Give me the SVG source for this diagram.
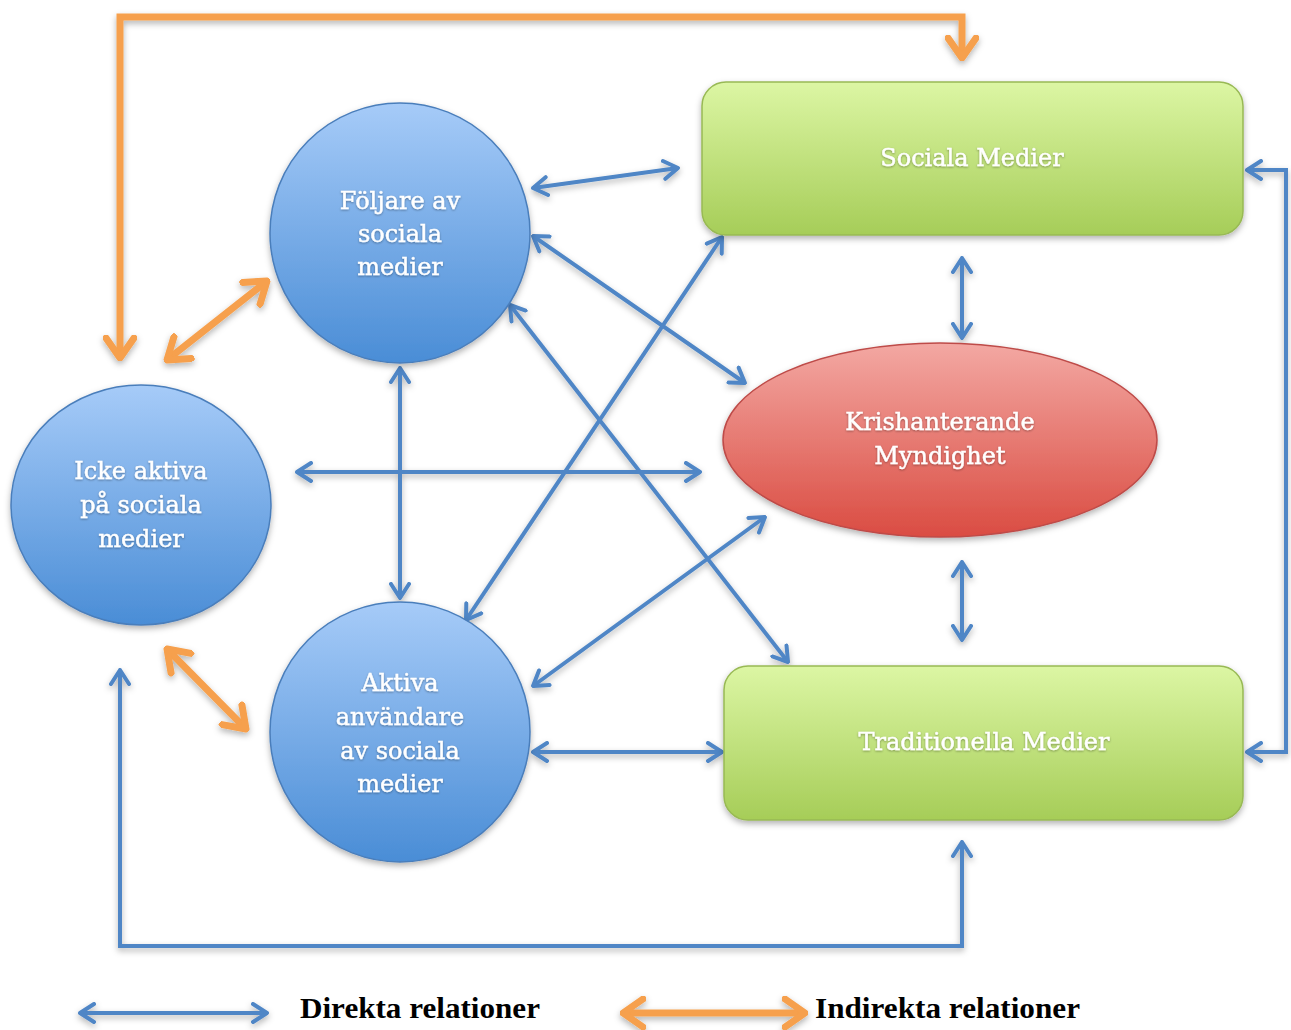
<svg xmlns="http://www.w3.org/2000/svg" width="1291" height="1030" viewBox="0 0 1291 1030">
<defs>
  <linearGradient id="gBlue" x1="0" y1="0" x2="0" y2="1">
    <stop offset="0" stop-color="#a6cbf8"/>
    <stop offset="1" stop-color="#4a8dd6"/>
  </linearGradient>
  <linearGradient id="gGreen" x1="0" y1="0" x2="0" y2="1">
    <stop offset="0" stop-color="#dcf6a4"/>
    <stop offset="1" stop-color="#a6cd58"/>
  </linearGradient>
  <linearGradient id="gRed" x1="0" y1="0" x2="0" y2="1">
    <stop offset="0" stop-color="#f3a8a3"/>
    <stop offset="1" stop-color="#da4c42"/>
  </linearGradient>
  <filter id="sh" x="-10%" y="-10%" width="130%" height="130%">
    <feDropShadow dx="0" dy="3" stdDeviation="3" flood-color="#000" flood-opacity="0.3"/>
  </filter>
  <filter id="shu" filterUnits="userSpaceOnUse" x="0" y="980" width="1291" height="50">
    <feDropShadow dx="0" dy="3" stdDeviation="3" flood-color="#000" flood-opacity="0.3"/>
  </filter>
  <filter id="tsh" x="-10%" y="-10%" width="120%" height="130%">
    <feDropShadow dx="0" dy="1" stdDeviation="0.8" flood-color="#000" flood-opacity="0.35"/>
  </filter>
  <marker id="ab" viewBox="0 0 18 22" markerWidth="18" markerHeight="22" refX="16" refY="11" orient="auto-start-reverse" markerUnits="userSpaceOnUse">
    <path d="M2,2 L16,11 L2,20" fill="none" stroke="#4f86c6" stroke-width="4" stroke-linecap="round" stroke-linejoin="round"/>
  </marker>
  <marker id="ao" viewBox="0 0 26 34" markerWidth="26" markerHeight="34" refX="23" refY="17" orient="auto-start-reverse" markerUnits="userSpaceOnUse">
    <path d="M3,3 L23,17 L3,31" fill="none" stroke="#f6a04d" stroke-width="7" stroke-linecap="round" stroke-linejoin="round"/>
  </marker>
  <style>
    .b { fill: none; stroke: #4f86c6; stroke-width: 4; marker-start: url(#ab); marker-end: url(#ab); }
    .o { fill: none; stroke: #f6a04d; stroke-width: 7; marker-end: url(#ao); }
    .oo { marker-start: url(#ao); }
    .node text { font-family: "DejaVu Serif", "Liberation Serif", serif; font-size: 24px; fill: #ffffff; stroke: #ffffff; stroke-width: 0.4; text-anchor: middle; }
    .blue { fill: url(#gBlue); stroke: #4a7ebb; stroke-width: 1.5; }
    .green { fill: url(#gGreen); stroke: #98b954; stroke-width: 1.5; }
    .red { fill: url(#gRed); stroke: #be4b48; stroke-width: 1.5; }
    .leg { font-family: "Liberation Serif", "DejaVu Serif", serif; font-weight: bold; font-size: 29px; fill: #000; }
  </style>
</defs>
<rect width="1291" height="1030" fill="#ffffff"/>

<g id="connectors" filter="url(#sh)">
  <line class="b" x1="533" y1="188" x2="678" y2="168"/>
  <line class="b" x1="533" y1="236" x2="745" y2="383"/>
  <line class="b" x1="510" y1="305" x2="788" y2="662"/>
  <line class="b" x1="466" y1="620" x2="722" y2="237"/>
  <line class="b" x1="533" y1="686" x2="765" y2="517"/>
  <line class="b" x1="400" y1="368" x2="400" y2="598"/>
  <line class="b" x1="297" y1="472" x2="700" y2="472"/>
  <line class="b" x1="533" y1="752" x2="722" y2="752"/>
  <line class="b" x1="962" y1="258" x2="962" y2="338"/>
  <line class="b" x1="962" y1="562" x2="962" y2="640"/>
  <polyline class="b" points="1247,170 1286,170 1286,752 1247,752"/>
  <polyline class="b" points="120,670 120,946 962,946 962,842"/>
  <polyline class="o oo" points="120,358 120,17 962,17 962,58"/>
  <line class="o oo" x1="167" y1="360" x2="267" y2="281"/>
  <line class="o oo" x1="167" y1="649" x2="246" y2="729"/>
</g>

<g id="node-foljare" class="node">
  <circle class="blue" cx="400" cy="233" r="130" filter="url(#sh)"/>
  <g filter="url(#tsh)">
    <text x="400" y="209">Följare av</text>
    <text x="400" y="242">sociala</text>
    <text x="400" y="275">medier</text>
  </g>
</g>

<g id="node-icke" class="node">
  <ellipse class="blue" cx="141" cy="505" rx="130" ry="120" filter="url(#sh)"/>
  <g filter="url(#tsh)">
    <text x="141" y="479">Icke aktiva</text>
    <text x="141" y="513">på sociala</text>
    <text x="141" y="547">medier</text>
  </g>
</g>

<g id="node-aktiva" class="node">
  <circle class="blue" cx="400" cy="732" r="130" filter="url(#sh)"/>
  <g filter="url(#tsh)">
    <text x="400" y="691">Aktiva</text>
    <text x="400" y="725">användare</text>
    <text x="400" y="759">av sociala</text>
    <text x="400" y="792">medier</text>
  </g>
</g>

<g id="node-sociala" class="node">
  <rect class="green" x="702" y="82" width="541" height="153" rx="24" filter="url(#sh)"/>
  <text x="972" y="166" filter="url(#tsh)">Sociala Medier</text>
</g>

<g id="node-kris" class="node">
  <ellipse class="red" cx="940" cy="440" rx="217" ry="97" filter="url(#sh)"/>
  <g filter="url(#tsh)">
    <text x="940" y="430">Krishanterande</text>
    <text x="940" y="464">Myndighet</text>
  </g>
</g>

<g id="node-trad" class="node">
  <rect class="green" x="724" y="666" width="519" height="154" rx="24" filter="url(#sh)"/>
  <text x="984" y="750" filter="url(#tsh)">Traditionella Medier</text>
</g>

<g id="legend">
  <g filter="url(#shu)">
    <line class="b" x1="80" y1="1013" x2="267" y2="1013"/>
    <line class="o oo" x1="623" y1="1013" x2="805" y2="1013"/>
  </g>
  <text class="leg" x="300" y="1018" textLength="240" lengthAdjust="spacingAndGlyphs">Direkta relationer</text>
  <text class="leg" x="815" y="1018" textLength="265" lengthAdjust="spacingAndGlyphs">Indirekta relationer</text>
</g>
</svg>
